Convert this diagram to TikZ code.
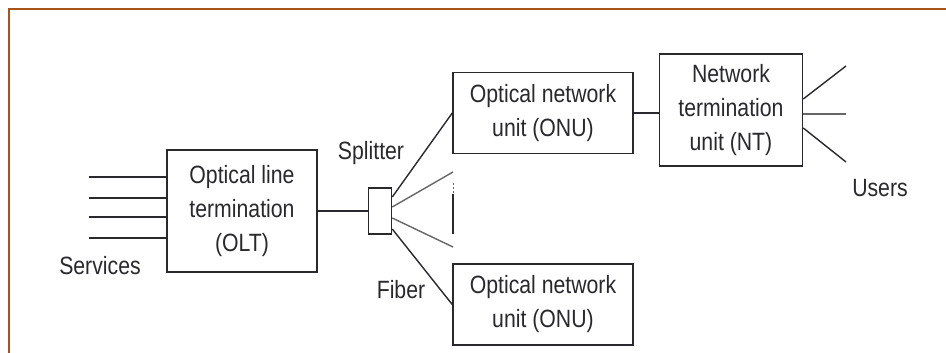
\documentclass[tikz,border=0pt]{standalone}
\usepackage{fontspec}
\setmainfont[FakeStretch=0.85]{Liberation Sans}
\usepackage{xcolor}
\usetikzlibrary{positioning,calc}
\definecolor{framebrown}{RGB}{168, 84, 24}
\definecolor{inkgray}{RGB}{40, 40, 45}

\begin{document}
\begin{tikzpicture}[
    x=1pt, y=-1pt,
    every text node part/.style={align=center},
    unit/.style={draw=inkgray, line width=1.5pt, inner sep=0pt, text=inkgray, font=\fontsize{25}{34}\selectfont},
    olttbox/.style={unit, minimum width=150pt, minimum height=122pt},
    onubox/.style={unit, minimum width=180pt, minimum height=81pt},
    ntbox/.style={unit, minimum width=143pt, minimum height=112pt},
    splitbox/.style={draw=inkgray, line width=1.5pt, minimum width=23pt, minimum height=46pt, inner sep=0pt},
    label/.style={text=inkgray, inner sep=0pt, font=\fontsize{25}{30}\selectfont},
    fiber/.style={draw=inkgray, line width=1.4pt},
    faint/.style={draw=gray!80!black, line width=1.4pt}
]
\useasboundingbox (0,0) rectangle (946,353);

% Frame
\draw[framebrown, line width=2pt] (946,9.5) -- (8.5,9.5) -- (8.5,353);

% Nodes
\node (olt) [olttbox] at (242,211) {Optical line\\termination\\(OLT)};
\node (spl) [splitbox, right=50pt of olt] {};
\node (onu1) [onubox] at (543,113) {Optical network\\unit (ONU)};
\node (onu2) [onubox, below=109pt of onu1] {Optical network\\unit (ONU)};
\node (nt) [ntbox, right=25pt of onu1, yshift=3pt] {Network\\termination\\unit (NT)};

\node (services) [label] at (100,266) {Services};
\node (splitter) [label] at (371,153) {Splitter};
\node (fib) [label] at (401,290) {Fiber};
\node (users) [label] at (880,188) {Users};

% Free ends
\coordinate (fanA) at (453,172);
\coordinate (fanB) at (453,247);
\coordinate (userA) at (846,66);
\coordinate (userB) at (846,114);
\coordinate (userC) at (846,162);

% Connectors
\foreach \y [count=\i] in {177,198,217,238} {
    \coordinate (svc\i) at (89,\y);
    \draw [fiber] (svc\i) -- (svc\i -| olt.west);
}
\draw [fiber] (olt.east |- spl.center) -- (spl.west);
\draw [fiber] ([yshift=14pt]spl.east) -- (onu1.west);
\draw [faint] ([yshift=4pt]spl.east) -- (fanA);
\draw [faint] ([yshift=-7pt]spl.east) -- (fanB);
\draw [fiber] ([yshift=-18pt]spl.east) -- (onu2.west);
\draw [faint, line width=1pt, dash pattern=on 2pt off 2pt] (453,183) -- (453,194);
\draw [fiber, line width=1.2pt] (453,194) -- (453,234);
\draw [fiber] (onu1.east) -- (onu1.east -| nt.west);
\draw [fiber] ([yshift=11pt]nt.east) -- (userA);
\draw [faint] ([yshift=-4pt]nt.east) -- (userB);
\draw [fiber] ([yshift=-18pt]nt.east) -- (userC);

\end{tikzpicture}
\end{document}
